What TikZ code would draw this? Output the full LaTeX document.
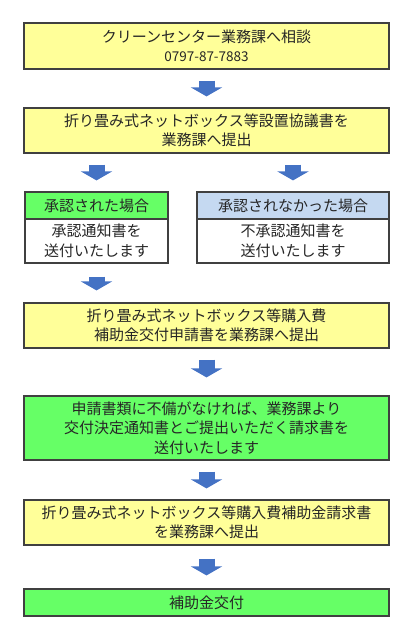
\documentclass[tikz,border=0pt]{standalone}
\usepackage{fontspec}
\setmainfont{Noto Sans CJK JP}
\usetikzlibrary{arrows.meta}

\definecolor{boxyellow}{RGB}{255,255,153}
\definecolor{boxgreen}{RGB}{102,255,102}
\definecolor{boxblue}{RGB}{197,217,241}
\definecolor{arrowblue}{RGB}{68,114,196}

\tikzstyle{every node}=[font=\fontsize{15}{19.5}\selectfont,text=black!85,align=center,inner sep=0pt]
\tikzstyle{stepbox}=[draw=black!75,line width=1.2pt,minimum width=365pt]
\tikzstyle{bigarrow}=[arrowblue,line width=16pt,-{Triangle[width=31pt,length=9pt]},shorten <=11pt,shorten >=11pt]

\begin{document}
\begin{tikzpicture}[x=1pt,y=-1pt]
\useasboundingbox (0,0) rectangle (411,640);
\node[stepbox,fill=boxyellow,minimum height=46pt] (CONSULT) at (206.5,46) {クリーンセンター業務課へ相談\\{\fontsize{13.5}{19.5}\selectfont 0797-87-7883}};
\node[stepbox,fill=boxyellow,minimum height=45pt] (AGREE) at (206.5,130.5) {折り畳み式ネットボックス等設置協議書を\\業務課へ提出};
\node[stepbox,fill=boxgreen,minimum width=143pt,minimum height=27pt] (YESH) at (96.5,205.5) {承認された場合};
\node[stepbox,fill=white,minimum width=143pt,minimum height=44pt] (YESB) at (96.5,241) {承認通知書を\\送付いたします};
\node[stepbox,fill=boxblue,minimum width=192pt,minimum height=27pt] (NOH) at (293,205.5) {承認されなかった場合};
\node[stepbox,fill=white,minimum width=192pt,minimum height=44pt] (NOB) at (293,241) {不承認通知書を\\送付いたします};
\node[stepbox,fill=boxyellow,minimum height=45pt] (APPLY) at (206.5,325.5) {折り畳み式ネットボックス等購入費\\補助金交付申請書を業務課へ提出};
\node[stepbox,fill=boxgreen,minimum height=64pt] (DECIDE) at (206.5,428) {申請書類に不備がなければ、業務課より\\交付決定通知書とご提出いただく請求書を\\送付いたします};
\node[stepbox,fill=boxyellow,minimum height=45pt] (CLAIM) at (206.5,522.5) {折り畳み式ネットボックス等購入費補助金請求書\\を業務課へ提出};
\node[stepbox,fill=boxgreen,minimum height=27pt] (PAY) at (206.5,602.5) {補助金交付};

\draw[bigarrow] (CONSULT) -- (AGREE);
\draw[bigarrow] (AGREE.south -| YESH) -- (YESH);
\draw[bigarrow] (AGREE.south -| NOH) -- (NOH);
\draw[bigarrow,shorten <=13pt,shorten >=12pt] (YESB) -- (APPLY.north -| YESB);
\draw[bigarrow,shorten >=18pt] (APPLY) -- (DECIDE);
\draw[bigarrow] (DECIDE) -- (CLAIM);
\draw[bigarrow,shorten <=13pt,shorten >=13pt] (CLAIM) -- (PAY);
\end{tikzpicture}
\end{document}
